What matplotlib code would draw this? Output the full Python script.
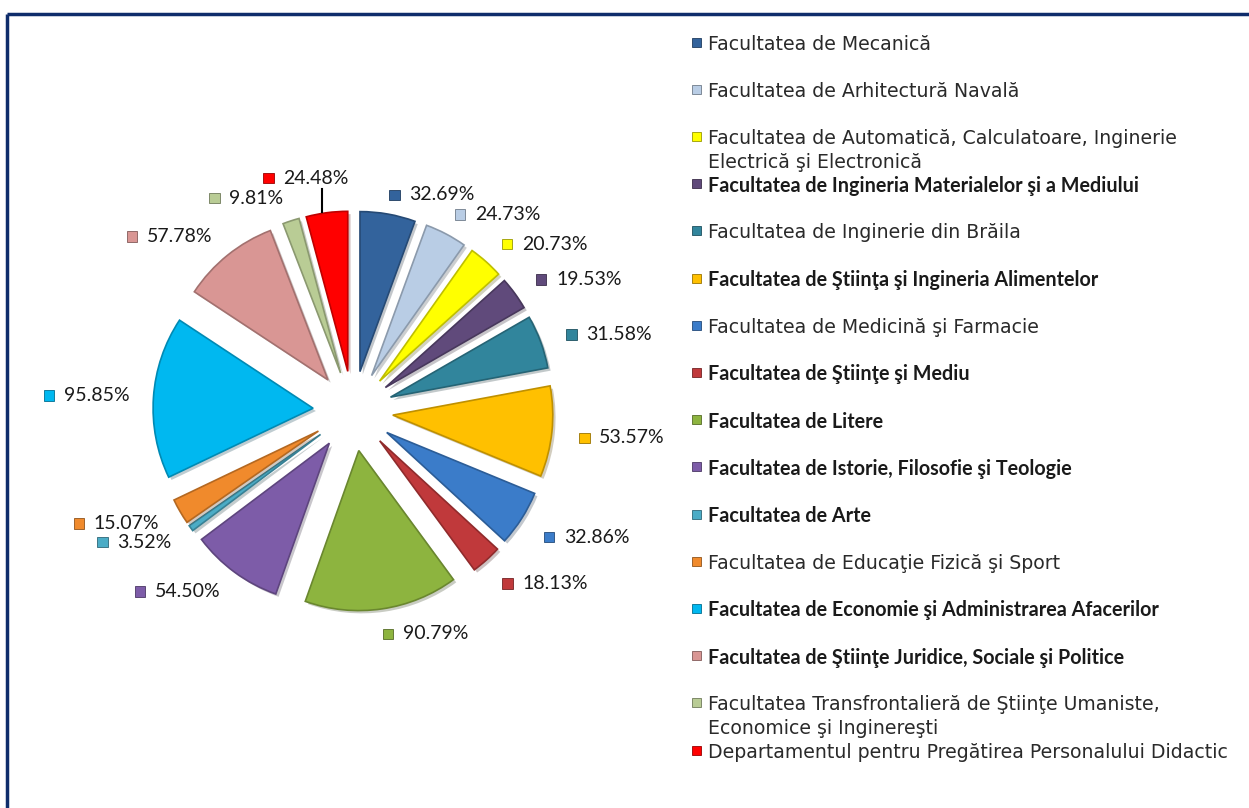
import numpy as np
import matplotlib
matplotlib.use("Agg")
import matplotlib.pyplot as plt
from matplotlib.patches import Rectangle
from matplotlib.offsetbox import AnnotationBbox, HPacker, DrawingArea, TextArea
import matplotlib.patheffects as pe

# ── data ───────────────────────────────────────
faculties = [
    "Facultatea de Mecanică",
    "Facultatea de Arhitectură Navală",
    "Facultatea de Automatică, Calculatoare, Inginerie\nElectrică şi Electronică",
    "Facultatea de Ingineria Materialelor şi a Mediului",
    "Facultatea de Inginerie din Brăila",
    "Facultatea de Ştiinţa şi Ingineria Alimentelor",
    "Facultatea de Medicină şi Farmacie",
    "Facultatea de Ştiinţe şi Mediu",
    "Facultatea de Litere",
    "Facultatea de Istorie, Filosofie şi Teologie",
    "Facultatea de Arte",
    "Facultatea de Educaţie Fizică şi Sport",
    "Facultatea de Economie şi Administrarea Afacerilor",
    "Facultatea de Ştiinţe Juridice, Sociale şi Politice",
    "Facultatea Transfrontalieră de Ştiinţe Umaniste,\nEconomice şi Inginereşti",
    "Departamentul pentru Pregătirea Personalului Didactic",
]
values = [32.69, 24.73, 20.73, 19.53, 31.58, 53.57, 32.86, 18.13,
          90.79, 54.50, 3.52, 15.07, 95.85, 57.78, 9.81, 24.48]
bold_entry = [False, False, False, True, False, True, False, True,
              True, True, True, False, True, True, False, False]
colors = ["#33639c", "#b9cde5", "#ffff00", "#604a7b", "#31859c", "#ffc000",
          "#3b7cc9", "#c0393b", "#8db43f", "#7d5ca8", "#4bacc6", "#f08a2c",
          "#00b8f0", "#d99694", "#b9cc95", "#ff0000"]

W, H = 1249, 808
fig = plt.figure(figsize=(W / 100, H / 100), dpi=100)
ax = fig.add_axes([0, 0, 1, 1])

# pixel coordinates, y pointing down
cx, cy, R, boom = 353, 411, 160, 40

def darker(c, f=0.75):
    r, g, b = matplotlib.colors.to_rgb(c)
    return (r * f, g * f, b * f)

wedges, _ = ax.pie(values, colors=colors, startangle=-90, counterclock=True,
                   center=(cx, cy), radius=R, explode=[boom] * len(values),
                   wedgeprops=dict(linewidth=1.2))
for w, c in zip(wedges, colors):
    w.set_edgecolor(darker(c))
    w.set_path_effects([pe.SimplePatchShadow(offset=(2, -2), alpha=0.25), pe.Normal()])

ax.set_xlim(0, W)
ax.set_ylim(H, 0)
ax.set_aspect("auto")
ax.axis("off")

# ── data labels ────────────────────────────────
def label_box(val, col):
    da = DrawingArea(7.5, 7.5, 0, 0)
    da.add_artist(Rectangle((0, 0), 7.5, 7.5, facecolor=col,
                            edgecolor=darker(col, 0.6), linewidth=0.6))
    ta = TextArea(f"{val:.2f}%", textprops=dict(fontsize=14, family="Lato",
                                                color="#1a1a1a"))
    return HPacker(children=[da, ta], align="center", pad=0, sep=7)

n = len(values)
for i, (w, val, col) in enumerate(zip(wedges, values, colors)):
    th = np.deg2rad((w.theta1 + w.theta2) / 2)
    dx, dy = np.cos(th), np.sin(th)
    shift = 0
    if i == n - 1:
        r_lab = 235
        align = (0.69, 0.5)
        x0, y0 = cx + dx * (R + boom + 1), cy + dy * (R + boom + 1)
        ax.plot([x0 - 5, x0 - 5], [y0, cy + dy * 224], color="black", lw=1.5)
    elif dx >= 0:
        r_lab = 230 - 8 * abs(dy) ** 4
        align = (0.03, 0.5)
        shift = 3
    else:
        r_lab = 224
        align = (1.0, 0.5)
    ab = AnnotationBbox(label_box(val, col), (cx + dx * r_lab, cy + dy * r_lab + shift),
                        xycoords="data", box_alignment=align, frameon=False, pad=0)
    ax.add_artist(ab)

# ── legend ─────────────────────────────────────
step = 23.6
for i, (name, col, b) in enumerate(zip(faculties, colors, bold_entry)):
    y = 42 + 2 * step * i
    ax.add_patch(Rectangle((692, y - 4.5), 9, 9, facecolor=col,
                           edgecolor=darker(col, 0.6), linewidth=0.6))
    for k, line in enumerate(name.split("\n")):
        if b:
            ax.text(708, y + k * step, line, fontsize=14.2, family="Lato",
                    fontweight="bold", color="#1a1a1a", va="center_baseline")
        else:
            ax.text(708, y + k * step, line, fontsize=13.6, family="DejaVu Sans",
                    color="#2a2a2a", va="center_baseline")

# ── frame ──────────────────────────────────────
ax.plot([7.5, 7.5], [H, 13.5], color="#0f2d6b", lw=2.5, solid_capstyle="butt")
ax.plot([7.5, W], [13.5, 13.5], color="#0f2d6b", lw=2.5, solid_capstyle="butt")

fig.savefig("out.png", dpi=100)
